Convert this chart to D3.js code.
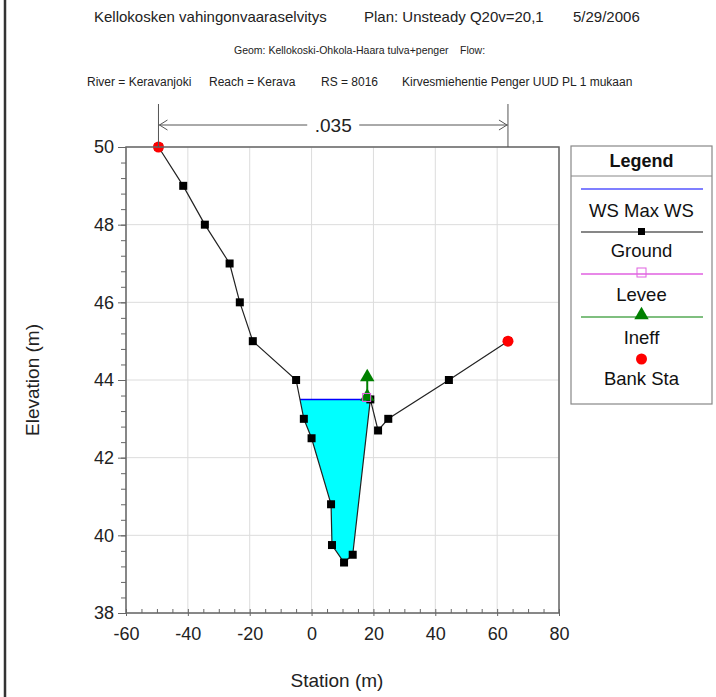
<!DOCTYPE html>
<html>
<head>
<meta charset="utf-8">
<script src="https://cdn.jsdelivr.net/npm/d3@7"></script>
<style>
  html, body { margin: 0; padding: 0; background: #fff; }
  svg { display: block; font-family: "Liberation Sans", Arial, sans-serif; }
</style>
</head>
<body>
<svg id="chart" width="716" height="697"></svg>
<script>
// ---------------- DATA ----------------
const titleLine1 = ["Kellokosken vahingonvaaraselvitys", "Plan: Unsteady Q20v=20,1", "5/29/2006"];
const titleLine2 = ["Geom: Kellokoski-Ohkola-Haara tulva+penger", "Flow:"];
const titleLine3 = ["River = Keravanjoki", "Reach = Kerava", "RS = 8016", "Kirvesmiehentie Penger UUD PL 1 mukaan"];

const groundStation = [-49.5, -41.5, -34.5, -26.5, -23.2, -19.0, -5.0, -2.5, 0.0, 6.3, 6.6, 10.5, 13.3, 19.0, 21.5, 24.8, 44.4, 63.5];
const groundElev    = [50.0, 49.0, 48.0, 47.0, 46.0, 45.0, 44.0, 43.0, 42.5, 40.8, 39.75, 39.3, 39.5, 43.5, 42.7, 43.0, 44.0, 45.0];

const wsElev = 43.5;              // WS Max WS
const leveeStation = [17.8];
const leveeElev = [43.55];
const ineffStation = [18.0, 18.0];
const ineffElev = [44.05, 43.55];
const bankStation = [-49.5, 63.5];
const bankElev = [50.0, 45.0];
const manningN = [".035"];

const xTicks = [-60, -40, -20, 0, 20, 40, 60, 80];
const yTicks = [38, 40, 42, 44, 46, 48, 50];
const legendItems = ["WS Max WS", "Ground", "Levee", "Ineff", "Bank Sta"];

// ---------------- LAYOUT ----------------
const svg = d3.select("#chart");
const L = 126, R = 559, T = 147, B = 613;
const x = d3.scaleLinear().domain([-60, 80]).range([L, R]);
const y = d3.scaleLinear().domain([38, 50]).range([B, T]);

// frame line on left
svg.append("line").attr("x1", 5).attr("x2", 5).attr("y1", 0).attr("y2", 697)
  .attr("stroke", "#333").attr("stroke-width", 2.5);

// titles
const t1x = [94, 364, 573];
svg.selectAll(".t1").data(titleLine1).enter().append("text")
  .attr("x", (d, i) => t1x[i]).attr("y", 22).attr("font-size", 15).attr("fill", "#222").text(d => d);
const t2x = [234, 460];
svg.selectAll(".t2").data(titleLine2).enter().append("text")
  .attr("x", (d, i) => t2x[i]).attr("y", 54).attr("font-size", 10.5).attr("fill", "#222").text(d => d);
const t3x = [87, 209, 321, 402];
svg.selectAll(".t3").data(titleLine3).enter().append("text")
  .attr("x", (d, i) => t3x[i]).attr("y", 86).attr("font-size", 12).attr("fill", "#222").text(d => d);

// gridlines
const g = svg.append("g");
g.selectAll(".vg").data(xTicks).enter().append("line")
  .attr("x1", d => x(d)).attr("x2", d => x(d)).attr("y1", T).attr("y2", B)
  .attr("stroke", "#dcdcdc").attr("stroke-width", 1);
g.selectAll(".hg").data(yTicks).enter().append("line")
  .attr("x1", L).attr("x2", R).attr("y1", d => y(d)).attr("y2", d => y(d))
  .attr("stroke", "#dcdcdc").attr("stroke-width", 1);

// water fill
const leftIdx = groundElev.findIndex((e, i) => i > 0 && groundElev[i - 1] >= wsElev && e < wsElev && groundStation[i] > -10);
const xa = groundStation[leftIdx - 1], ya = groundElev[leftIdx - 1];
const xb = groundStation[leftIdx], yb = groundElev[leftIdx];
const xLeft = xa + (wsElev - ya) * (xb - xa) / (yb - ya);
const rightIdx = groundElev.findIndex((e, i) => i > leftIdx && e >= wsElev);
const waterPts = [[xLeft, wsElev]];
for (let i = leftIdx; i <= rightIdx; i++) waterPts.push([groundStation[i], groundElev[i]]);
const area = d3.area().x(d => x(d[0])).y0(y(wsElev)).y1(d => y(d[1]));
svg.append("path").datum(waterPts).attr("d", area).attr("fill", "#00ffff");
svg.append("line").attr("x1", x(xLeft)).attr("x2", x(groundStation[rightIdx]))
  .attr("y1", y(wsElev)).attr("y2", y(wsElev)).attr("stroke", "#0000ff").attr("stroke-width", 1.5);

// ground
const gpts = groundStation.map((s, i) => [s, groundElev[i]]);
svg.append("path").datum(gpts).attr("d", d3.line().x(d => x(d[0])).y(d => y(d[1])))
  .attr("fill", "none").attr("stroke", "#222").attr("stroke-width", 1.2);
svg.selectAll(".gp").data(gpts).enter().append("rect")
  .attr("x", d => x(d[0]) - 4).attr("y", d => y(d[1]) - 4).attr("width", 8).attr("height", 8).attr("fill", "#000");

// ineff
const ipts = ineffStation.map((s, i) => [s, ineffElev[i]]);
svg.append("path").datum(ipts).attr("d", d3.line().x(d => x(d[0])).y(d => y(d[1])))
  .attr("stroke", "#008000").attr("stroke-width", 2).attr("fill", "none");
const tri = d3.symbol().type(d3.symbolTriangle).size(90);
svg.selectAll(".ip").data(ipts).enter().append("path").attr("d", tri)
  .attr("transform", d => `translate(${x(d[0])},${y(d[1]) - 1})`).attr("fill", "#008000");

// levee
svg.selectAll(".lv").data(leveeStation).enter().append("rect")
  .attr("x", (d) => x(d) - 4).attr("y", (d, i) => y(leveeElev[i]) - 4).attr("width", 8).attr("height", 8)
  .attr("fill", "none").attr("stroke", "#e060e0").attr("stroke-width", 1);

// bank stations
svg.selectAll(".bk").data(bankStation).enter().append("circle")
  .attr("cx", d => x(d)).attr("cy", (d, i) => y(bankElev[i])).attr("r", 5.5).attr("fill", "#ff0000");

// plot frame
svg.append("rect").attr("x", L).attr("y", T).attr("width", R - L).attr("height", B - T)
  .attr("fill", "none").attr("stroke", "#666").attr("stroke-width", 1.5);

// axes
const fmt = d => String(d);
const xAxis = svg.append("g").attr("transform", `translate(0,${B})`);
xAxis.call(d3.axisBottom(x).tickValues(d3.range(-60, 81, 5)).tickSize(-4).tickFormat(""))
  .call(s => s.select(".domain").remove()).selectAll("line").attr("stroke", "#666");
const xMaj = svg.append("g").attr("transform", `translate(0,${B})`);
xMaj.call(d3.axisBottom(x).tickValues(xTicks).tickSize(3).tickPadding(11).tickFormat(fmt))
  .call(s => s.select(".domain").remove());
xMaj.selectAll("line").attr("stroke", "#666");
xMaj.selectAll("text").attr("font-size", 18).attr("fill", "#222").attr("font-family", "Liberation Sans, Arial, sans-serif");

const yMin = svg.append("g").attr("transform", `translate(${L},0)`);
yMin.call(d3.axisLeft(y).tickValues(d3.range(38, 50.01, 0.4)).tickSize(5).tickFormat(""))
  .call(s => s.select(".domain").remove()).selectAll("line").attr("stroke", "#666");
const yMaj = svg.append("g").attr("transform", `translate(${L},0)`);
yMaj.call(d3.axisLeft(y).tickValues(yTicks).tickSize(8).tickPadding(4).tickFormat(fmt))
  .call(s => s.select(".domain").remove());
yMaj.selectAll("line").attr("stroke", "#666");
yMaj.selectAll("text").attr("font-size", 18).attr("fill", "#222").attr("font-family", "Liberation Sans, Arial, sans-serif");

// axis titles
svg.append("text").attr("x", 337).attr("y", 687).attr("text-anchor", "middle")
  .attr("font-size", 19).attr("fill", "#222").text("Station (m)");
svg.append("text").attr("transform", `translate(39,${y(44)}) rotate(-90)`).attr("text-anchor", "middle")
  .attr("font-size", 19).attr("fill", "#222").text("Elevation (m)");

// Manning's n annotation
const mY = 125;
const mx1 = x(bankStation[0]), mx2 = x(bankStation[1]);
svg.append("line").attr("x1", mx1).attr("x2", mx1).attr("y1", 104).attr("y2", T).attr("stroke", "#555");
svg.append("line").attr("x1", mx2).attr("x2", mx2).attr("y1", 104).attr("y2", T).attr("stroke", "#555");
svg.append("line").attr("x1", mx1).attr("x2", mx2).attr("y1", mY).attr("y2", mY).attr("stroke", "#555");
svg.append("path").attr("d", `M${mx1 + 9},${mY - 5}L${mx1 + 1},${mY}L${mx1 + 9},${mY + 5}`).attr("fill", "none").attr("stroke", "#555");
svg.append("path").attr("d", `M${mx2 - 9},${mY - 5}L${mx2 - 1},${mY}L${mx2 - 9},${mY + 5}`).attr("fill", "none").attr("stroke", "#555");
svg.append("rect").attr("x", (mx1 + mx2) / 2 - 26).attr("y", mY - 10).attr("width", 52).attr("height", 20).attr("fill", "#fff");
svg.append("text").attr("x", (mx1 + mx2) / 2).attr("y", mY + 7).attr("text-anchor", "middle")
  .attr("font-size", 19).attr("fill", "#222").text(manningN[0]);

// legend
const lg = svg.append("g");
lg.append("rect").attr("x", 571).attr("y", 146).attr("width", 141).attr("height", 258)
  .attr("fill", "#fff").attr("stroke", "#888").attr("stroke-width", 1.2);
lg.append("line").attr("x1", 571).attr("x2", 712).attr("y1", 176).attr("y2", 176).attr("stroke", "#888");
lg.append("text").attr("x", 641.5).attr("y", 167).attr("text-anchor", "middle")
  .attr("font-size", 18).attr("font-weight", "bold").attr("fill", "#111").text("Legend");
const lx1 = 581, lx2 = 703, lcx = 641.5;
const rowLineY = [189, 232, 274, 317, 359];
const rowTextY = [217, 257, 301, 344, 385];
lg.append("line").attr("x1", lx1).attr("x2", lx2).attr("y1", rowLineY[0]).attr("y2", rowLineY[0]).attr("stroke", "#0000ff").attr("stroke-width", 1.2);
lg.append("line").attr("x1", lx1).attr("x2", lx2).attr("y1", rowLineY[1]).attr("y2", rowLineY[1]).attr("stroke", "#111").attr("stroke-width", 1.2);
lg.append("rect").attr("x", lcx - 3.5).attr("y", rowLineY[1] - 4).attr("width", 7).attr("height", 7).attr("fill", "#000");
lg.append("line").attr("x1", lx1).attr("x2", lx2).attr("y1", rowLineY[2]).attr("y2", rowLineY[2]).attr("stroke", "#e060e0").attr("stroke-width", 1.5);
lg.append("rect").attr("x", lcx - 4.5).attr("y", rowLineY[2] - 6).attr("width", 9).attr("height", 9).attr("fill", "none").attr("stroke", "#e060e0");
lg.append("line").attr("x1", lx1).attr("x2", lx2).attr("y1", rowLineY[3]).attr("y2", rowLineY[3]).attr("stroke", "#008000").attr("stroke-width", 1.2);
lg.append("path").attr("d", d3.symbol().type(d3.symbolTriangle).size(90)).attr("transform", `translate(${lcx},${rowLineY[3] - 2})`).attr("fill", "#008000");
lg.append("circle").attr("cx", lcx).attr("cy", rowLineY[4]).attr("r", 5.5).attr("fill", "#ff0000");
lg.selectAll(".lt").data(legendItems).enter().append("text")
  .attr("x", lcx).attr("y", (d, i) => rowTextY[i]).attr("text-anchor", "middle")
  .attr("font-size", 18.5).attr("fill", "#111").text(d => d);
</script>
</body>
</html>
